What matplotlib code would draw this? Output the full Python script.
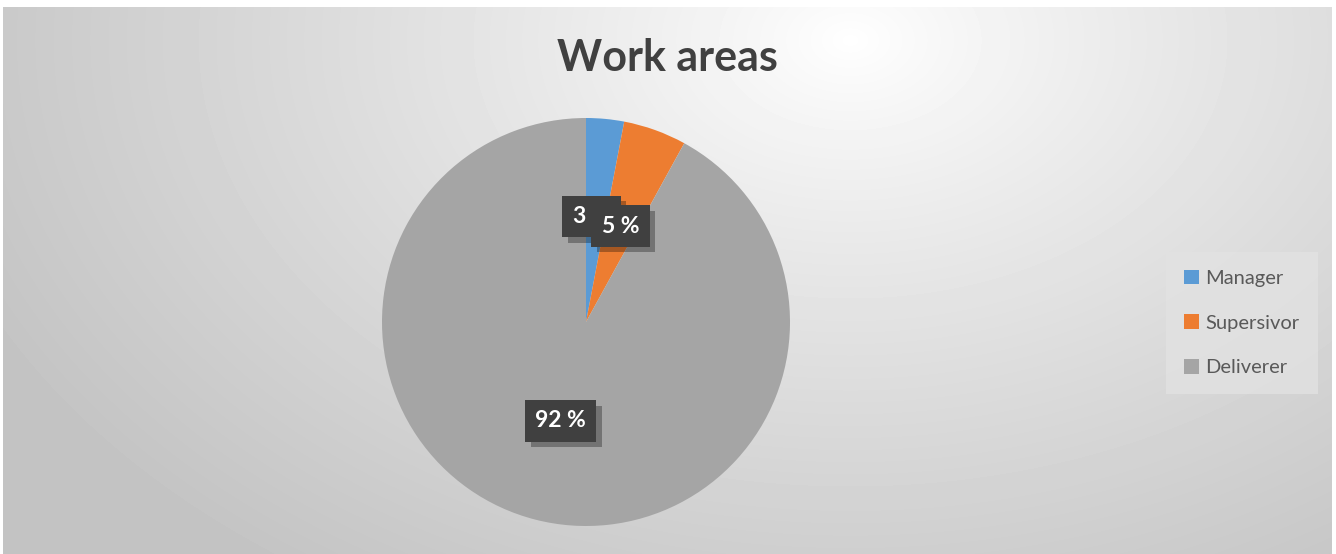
import numpy as np
import matplotlib
matplotlib.use('Agg')
import matplotlib.pyplot as plt
import matplotlib.patheffects as pe

#
# Chart data.
#
labels = ['Manager', 'Supersivor', 'Deliverer']
shares = [3, 5, 92]
colours = ['#5B9BD5', '#ED7D31', '#A5A5A5']
title = 'Work areas'

W, H = 1336, 554
fig = plt.figure(figsize=(W / 100, H / 100), dpi=100)
fig.patch.set_facecolor('white')

#
# Background: radial grey gradient, light near the title.
#
bg = fig.add_axes([3 / W, 0, (1332 - 3) / W, (H - 7) / H])
bg.set_axis_off()
xx, yy = np.meshgrid(np.arange(3, 1332), np.arange(7, H))
d = np.sqrt(((xx - 850) / 950.0) ** 2 + ((yy - 40) / 650.0) ** 2)
t = np.clip(d, 0, 1) ** 0.85
grey = 1.0 - (1.0 - 0xc4 / 255) * t
bg.imshow(grey, cmap='gray', vmin=0, vmax=1, aspect='auto',
          interpolation='bilinear', extent=(0, 1, 0, 1))
bg.set_xlim(0, 1)
bg.set_ylim(0, 1)

fig.text(667 / W, 1 - 58 / H, title, ha='center', va='center',
         fontsize=31, fontweight='bold', color='#404040', family='Lato')

#
# Pie, clockwise from the top as in Excel.
#
cx, cy, r = 586, 322, 204
ax = fig.add_axes([(cx - r) / W, (H - cy - r) / H, 2 * r / W, 2 * r / H])
wedges, texts, autotexts = ax.pie(
    shares, colors=colours, startangle=90, counterclock=False,
    autopct=lambda p: '{:.0f} %'.format(p), pctdistance=0.5,
    wedgeprops=dict(linewidth=0))
ax.set_xlim(-1, 1)
ax.set_ylim(-1, 1)
ax.set_aspect('auto')

# Excel nudged the small label a little to dodge its neighbour
x0, y0 = autotexts[0].get_position()
autotexts[0].set_position((x0 - 0.02, y0 + 0.02))

for i, at in enumerate(autotexts):
    at.set_fontsize(16.5)
    at.set_fontweight('bold')
    at.set_family('Lato')
    at.set_color('white')
    at.set_zorder(5 + i)
    at.set_bbox(dict(boxstyle='square,pad=0.45', facecolor='#404040',
                     edgecolor='none', linewidth=0))
    # soft drop shadow down and to the right
    at.get_bbox_patch().set_path_effects([
        pe.SimplePatchShadow(offset=(4, -4), shadow_rgbFace='black', alpha=0.3),
        pe.Normal()])

#
# Legend.
#
leg = fig.legend(wedges, labels, loc='center', bbox_to_anchor=(1242 / W, 1 - 323 / H),
                 frameon=True, fancybox=False,
                 prop=dict(family='Lato', size=14.5), labelcolor='#595959',
                 handlelength=0.75, handleheight=0.75, handletextpad=0.3,
                 labelspacing=1.35, borderpad=0.9, borderaxespad=0)
leg.get_frame().set_facecolor('#e2e2e2')
leg.get_frame().set_edgecolor('none')
leg.get_frame().set_alpha(0.8)

fig.savefig('out.png', dpi=100)
